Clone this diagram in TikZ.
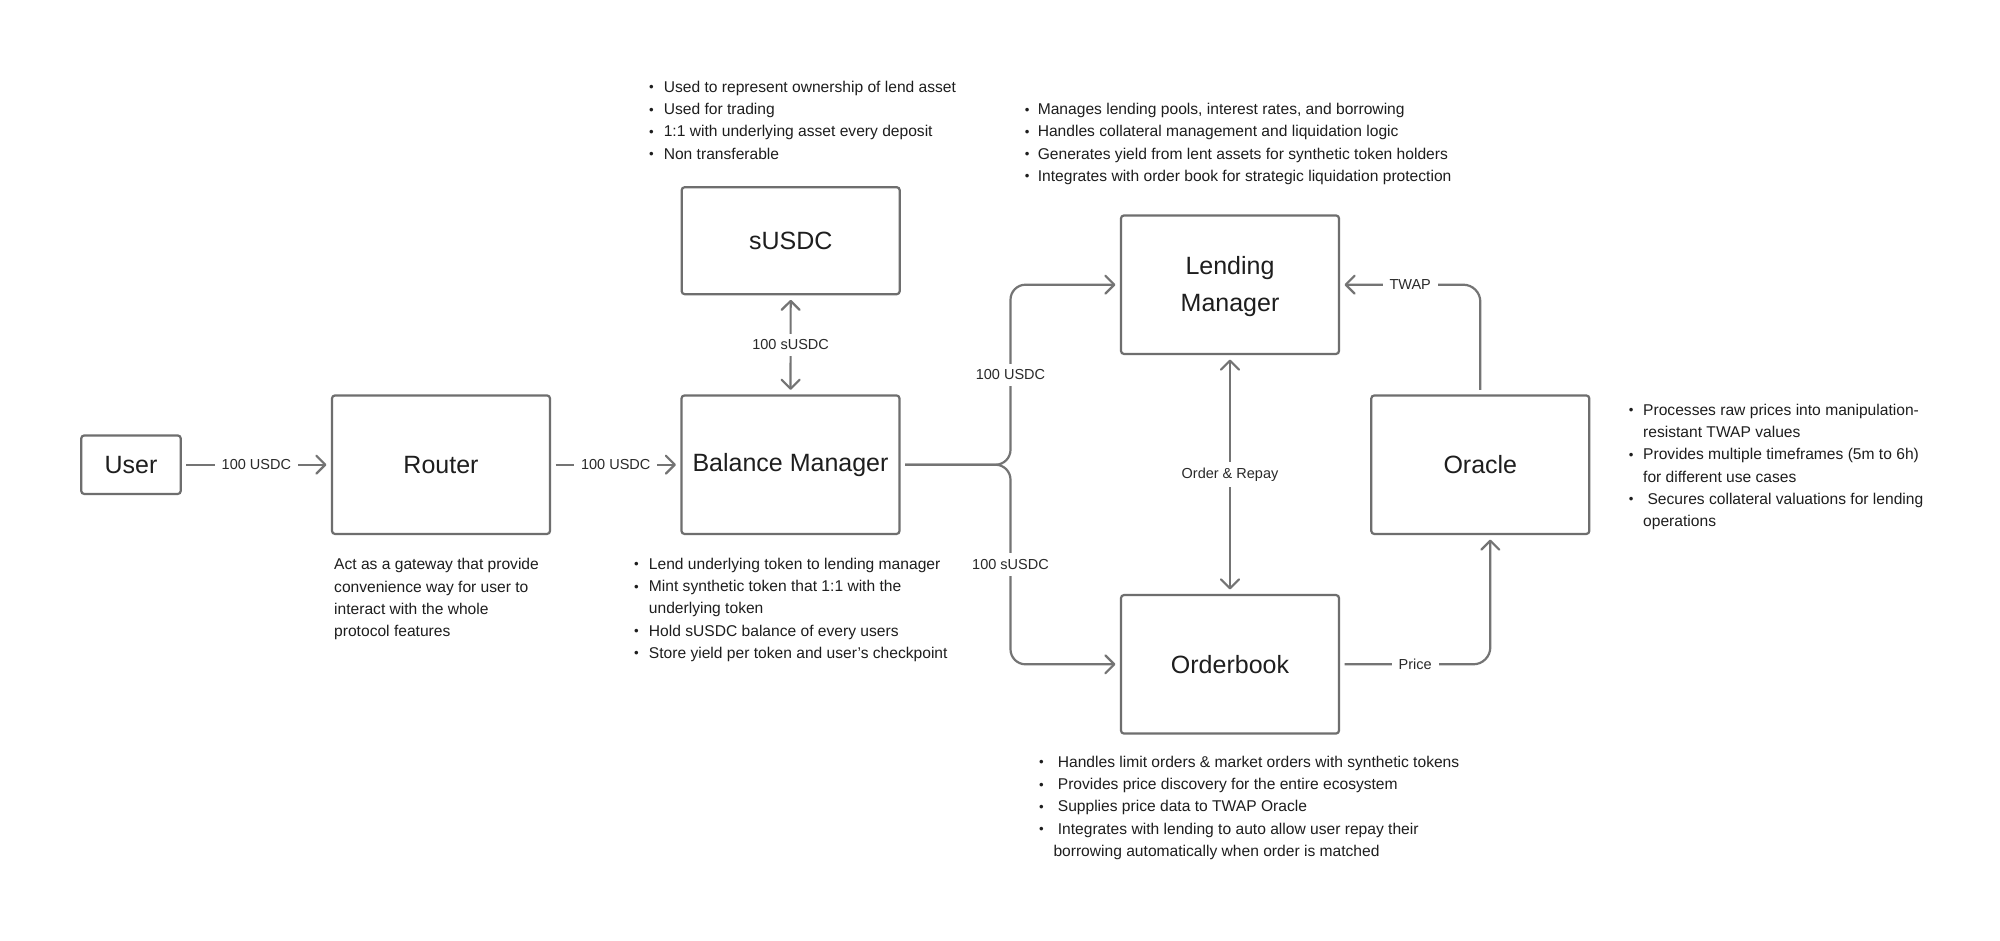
\documentclass[tikz,border=0pt]{standalone}
\usepackage{fontspec}
\setmainfont{Liberation Sans}
\usetikzlibrary{arrows.meta}
\definecolor{boxc}{HTML}{6E6E6E}
\definecolor{linec}{HTML}{747474}
\definecolor{txtc}{HTML}{1E1E1E}
\definecolor{lblc}{HTML}{2A2A2A}
\newcommand\bpt[1]{\makebox[#1][l]{\raisebox{0.5pt}{\scalebox{0.85}{\textbullet}}}}
\tikzset{
  box/.style={draw=boxc, line width=2.2pt, rounded corners=3pt, minimum width=218pt,
    minimum height=138.5pt, inner sep=0pt, text=txtc, font=\fontsize{25}{37}\selectfont, align=center},
  conn/.style={draw=linec, line width=2.2pt, shorten >=4.5pt, shorten <=4.5pt,
    >={Straight Barb[length=9pt,width=18pt,round]}, rounded corners=15pt},
  lbl/.style={fill=white, text=lblc, font=\fontsize{14.5}{17}\selectfont, inner xsep=7pt,
    inner ysep=6pt, rounded corners=0pt},
  desc/.style={anchor=base west, inner sep=0pt, text=txtc, font=\fontsize{15.6}{22.3}\selectfont},
}
\begin{document}
\begin{tikzpicture}[x=1pt,y=-1pt]
\useasboundingbox (0,0) rectangle (2000,940);
\fill[white] (0,0) rectangle (2000,940);

% boxes
\node[box, minimum width=99.5pt, minimum height=58.5pt] (user) at (131,464.7) {User};
\node[box] (router) at (441,464.7) {Router};
\node[box] (bm) at (790.5,464.7) {Balance Manager};
\node[box, minimum height=107pt] (susdc) at (790.7,240.7) {sUSDC};
\node[box] (lm) at (1230,284.7) {};
\node[text=txtc, font=\fontsize{25}{37}\selectfont, align=center, inner sep=0pt] (lmtext) at (1230,287) {Lending\\Manager};
\node[box] (ob) at (1230,664.3) {Orderbook};
\node[box] (oracle) at (1480.3,464.7) {Oracle};
\coordinate (jn) at (1010.5,464.7);

% connectors
\draw[conn,->] (user) -- node[lbl] (l1) {100 USDC} (router);
\draw[conn,->] (router) -- node[lbl] (l2) {100 USDC} (bm);
\draw[conn,<->] (bm) -- node[lbl] (l3) {100 sUSDC} (susdc);
\draw[conn,->] (bm.east) -- (jn) |- node[lbl,pos=0.25] (l4) {100 USDC} (lm.west);
\draw[conn,->] (bm.east) -- (jn) |- node[lbl,pos=0.25] (l5) {100 sUSDC} (ob.west);
\draw[conn,<->] (lm) -- node[lbl] (l6) {Order \& Repay} (ob);
\draw[conn,->,rounded corners=17pt] (oracle.north) |- node[lbl,pos=0.75] (l7) {TWAP} (lm.east);
\draw[conn,->,rounded corners=17pt] (ob.east) -| node[lbl,pos=0.25] (l8) {Price} ([xshift=10pt]oracle.south);

% descriptions
\node[desc] (dsusdc) at (649,92.2) {\begin{tabular}[t]{@{}l@{}}
\bpt{14.6pt}Used to represent ownership of lend asset\\
\bpt{14.6pt}Used for trading\\
\bpt{14.6pt}1:1 with underlying asset every deposit\\
\bpt{14.6pt}Non transferable
\end{tabular}};

\node[desc] (dlend) at (1024.6,114.5) {\begin{tabular}[t]{@{}l@{}}
\bpt{13pt}Manages lending pools, interest rates, and borrowing\\
\bpt{13pt}Handles collateral management and liquidation logic\\
\bpt{13pt}Generates yield from lent assets for synthetic token holders\\
\bpt{13pt}Integrates with order book for strategic liquidation protection
\end{tabular}};

\node[desc] (drouter) at (334,569.8) {\begin{tabular}[t]{@{}l@{}}
Act as a gateway that provide\\
convenience way for user to\\
interact with the whole\\
protocol features
\end{tabular}};

\node[desc] (dbm) at (634,569.2) {\begin{tabular}[t]{@{}l@{}}
\bpt{14.75pt}Lend underlying token to lending manager\\
\bpt{14.75pt}Mint synthetic token that 1:1 with the\\
\hspace*{14.75pt}underlying token\\
\bpt{14.75pt}Hold sUSDC balance of every users\\
\bpt{14.75pt}Store yield per token and user’s checkpoint
\end{tabular}};

\node[desc] (dob) at (1039,767.2) {\begin{tabular}[t]{@{}l@{}}
\bpt{14.3pt} Handles limit orders \& market orders with synthetic tokens\\
\bpt{14.3pt} Provides price discovery for the entire ecosystem\\
\bpt{14.3pt} Supplies price data to TWAP Oracle\\
\bpt{14.3pt} Integrates with lending to auto allow user repay their\\
\hspace*{14.3pt}borrowing automatically when order is matched
\end{tabular}};

\node[desc] (doracle) at (1628.7,415.2) {\begin{tabular}[t]{@{}l@{}}
\bpt{14.3pt}Processes raw prices into manipulation-\\
\hspace*{14.3pt}resistant TWAP values\\
\bpt{14.3pt}Provides multiple timeframes (5m to 6h)\\
\hspace*{14.3pt}for different use cases\\
\bpt{14.3pt} Secures collateral valuations for lending\\
\hspace*{14.3pt}operations
\end{tabular}};
\end{tikzpicture}
\end{document}
